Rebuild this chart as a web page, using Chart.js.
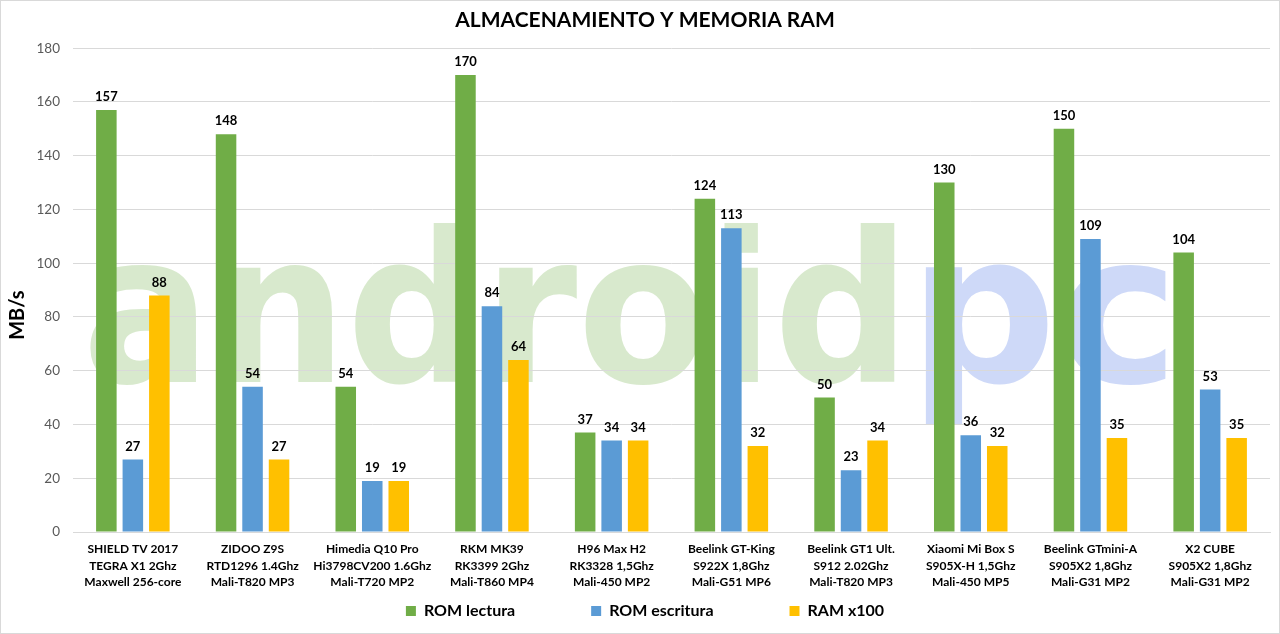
<!DOCTYPE html>
<html>
<head>
<meta charset="utf-8">
<script src="https://cdn.jsdelivr.net/npm/chart.js@4.4.1/dist/chart.umd.min.js"></script>
<style>
  html, body { margin: 0; padding: 0; background: #ffffff; }
  #wrap { width: 1280px; height: 634px; position: relative; }
</style>
</head>
<body>
<div id="wrap"><canvas id="c" width="1280" height="634"></canvas></div>
<script>
const chartTitle = 'ALMACENAMIENTO Y MEMORIA RAM';
const yAxisTitle = 'MB/s';
const categories = [
  ['SHIELD TV 2017', 'TEGRA X1 2Ghz', 'Maxwell 256-core'],
  ['ZIDOO Z9S', 'RTD1296 1.4Ghz', 'Mali-T820 MP3'],
  ['Himedia Q10 Pro', 'Hi3798CV200 1.6Ghz', 'Mali-T720 MP2'],
  ['RKM MK39', 'RK3399 2Ghz', 'Mali-T860 MP4'],
  ['H96 Max H2', 'RK3328 1,5Ghz', 'Mali-450 MP2'],
  ['Beelink GT-King', 'S922X 1,8Ghz', 'Mali-G51 MP6'],
  ['Beelink GT1 Ult.', 'S912 2.02Ghz', 'Mali-T820 MP3'],
  ['Xiaomi Mi Box S', 'S905X-H 1,5Ghz', 'Mali-450 MP5'],
  ['Beelink GTmini-A', 'S905X2 1,8Ghz', 'Mali-G31 MP2'],
  ['X2 CUBE', 'S905X2 1,8Ghz', 'Mali-G31 MP2']
];
const seriesNames = ['ROM lectura', 'ROM escritura', 'RAM x100'];
const romLectura   = [157, 148, 54, 170, 37, 124, 50, 130, 150, 104];
const romEscritura = [27, 54, 19, 84, 34, 113, 23, 36, 109, 53];
const ramX100      = [88, 27, 19, 64, 34, 32, 34, 32, 35, 35];
const yMin = 0, yMax = 180, yStep = 20;
const watermarkParts = ['android', 'pc'];

const FONT = "Lato, 'Open Sans', sans-serif";
const colors = ['#70AD47', '#5B9BD5', '#FFC000'];
const LEGEND_PAD = 76;

const watermarkPlugin = {
  id: 'watermark',
  beforeDraw(chart) {
    const ctx = chart.ctx;
    ctx.save();
    ctx.fillStyle = '#ffffff';
    ctx.fillRect(0, 0, chart.width, chart.height);
    ctx.font = "bold 225px 'DejaVu Sans', sans-serif";
    ctx.textBaseline = 'alphabetic';
    const drawFit = (txt, x0, x1, color) => {
      const m = ctx.measureText(txt);
      const inkL = -m.actualBoundingBoxLeft;
      const inkW = m.actualBoundingBoxRight + m.actualBoundingBoxLeft;
      const sx = (x1 - x0) / inkW;
      ctx.save();
      ctx.translate(x0, 382);
      ctx.scale(sx, 0.93);
      ctx.fillStyle = color;
      ctx.fillText(txt, -inkL, 0);
      ctx.restore();
    };
    drawFit(watermarkParts[0], 90, 895, 'rgba(112,173,71,0.27)');
    drawFit(watermarkParts[1], 925, 1166, 'rgba(120,150,235,0.36)');
    ctx.restore();
  },
  afterDraw(chart) {
    const ctx = chart.ctx;
    ctx.save();
    ctx.strokeStyle = '#d9d9d9';
    ctx.lineWidth = 1;
    ctx.strokeRect(0.5, 0.5, chart.width - 1, chart.height - 1);
    ctx.restore();
  }
};

const dataLabelPlugin = {
  id: 'dataLabels',
  afterDatasetsDraw(chart) {
    const ctx = chart.ctx;
    ctx.save();
    ctx.font = 'bold 13px ' + FONT;
    ctx.fillStyle = '#000000';
    ctx.textAlign = 'center';
    ctx.textBaseline = 'middle';
    chart.data.datasets.forEach((ds, di) => {
      const meta = chart.getDatasetMeta(di);
      meta.data.forEach((el, i) => {
        ctx.fillText(String(ds.data[i]), el.x, el.y - 13);
      });
    });
    ctx.restore();
  }
};

const layoutTweakPlugin = {
  id: 'layoutTweak',
  afterLayout(chart) {
    const lg = chart.legend;
    if (lg) {
      const itemH = 16;
      lg.top = 611 - itemH / 2 - LEGEND_PAD;
      lg.left += 10; lg.right += 10;
    }
    const tb = chart.titleBlock;
    if (tb) { tb.left += 10; tb.right += 10; }
    const ys = chart.scales.y;
    if (ys) { ys.bottom += 50; }
  }
};

new Chart(document.getElementById('c'), {
  type: 'bar',
  data: {
    labels: categories,
    datasets: [
      { label: seriesNames[0], data: romLectura, backgroundColor: colors[0] },
      { label: seriesNames[1], data: romEscritura, backgroundColor: colors[1] },
      { label: seriesNames[2], data: ramX100, backgroundColor: colors[2] }
    ]
  },
  options: {
    responsive: false,
    animation: false,
    devicePixelRatio: 1,
    categoryPercentage: 0.664,
    barPercentage: 0.775,
    layout: { padding: { left: 0, right: 10, top: 0, bottom: 0 } },
    plugins: {
      title: {
        display: true,
        text: chartTitle,
        color: '#000000',
        font: { family: FONT, size: 21, weight: 'bold', lineHeight: 1.2 },
        padding: { top: 8, bottom: 15 }
      },
      legend: {
        display: true,
        position: 'bottom',
        maxHeight: 40,
        labels: {
          color: '#000000',
          font: { family: FONT, size: 16, weight: 'bold' },
          boxWidth: 10,
          boxHeight: 10,
          padding: LEGEND_PAD
        }
      },
      tooltip: { enabled: false }
    },
    scales: {
      x: {
        grid: { display: false, drawTicks: false },
        border: { display: true, color: '#d9d9d9' },
        ticks: {
          color: '#000000',
          font: { family: FONT, size: 12, weight: 'bold', lineHeight: 1.375 },
          maxRotation: 0,
          minRotation: 0,
          autoSkip: false,
          padding: 9
        },
        afterFit(scale) { scale.height = 62; }
      },
      y: {
        min: yMin,
        max: yMax,
        grid: { color: '#d9d9d9', drawTicks: false },
        border: { display: false },
        ticks: {
          stepSize: yStep,
          color: '#595959',
          font: { family: FONT, size: 13.5 },
          padding: 13
        },
        title: {
          display: true,
          text: yAxisTitle,
          color: '#000000',
          font: { family: FONT, size: 20, weight: 'bold' },
          padding: { top: 6, bottom: 0 }
        },
        afterFit(scale) { scale.width = 73; }
      }
    }
  },
  plugins: [watermarkPlugin, dataLabelPlugin, layoutTweakPlugin]
});
</script>
</body>
</html>
